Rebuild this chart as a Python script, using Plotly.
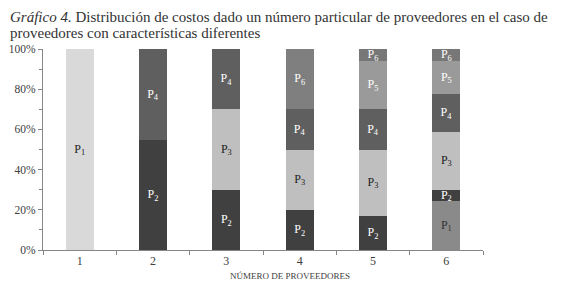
import plotly.graph_objects as go

categories = ["1", "2", "3", "4", "5", "6"]
series_names = ["P1", "P2", "P3", "P4", "P5", "P6"]
p1 = [100, None, None, None, None, 24.4]
p2 = [None, 54.7, 30, 20, 17, 5.6]
p3 = [None, None, 40, 30, 33, 28.9]
p4 = [None, 45.3, 30, 20, 20, 18.7]
p5 = [None, None, None, None, 24.2, 16.6]
p6 = [None, None, None, 30, 5.8, 5.8]
y_ticks = [0, 20, 40, 60, 80, 100]

values = [p1, p2, p3, p4, p5, p6]
colors = [
    ["#d9d9d9"] * 5 + ["#8a8a8a"],
    ["#404040"] * 6,
    ["#bfbfbf"] * 6,
    ["#5f5f5f"] * 6,
    ["#9a9a9a"] * 6,
    ["#7f7f7f"] * 4 + ["#777777"] * 2,
]
text_colors = [
    ["#222222"] * 5 + ["#333333"],
    ["#ffffff"] * 6,
    ["#222222"] * 6,
    ["#ffffff"] * 6,
    ["#ffffff"] * 6,
    ["#ffffff"] * 6,
]

FONT = "Liberation Serif"
# the page body adds an 8px offset; figure is sized to fill the rest
OFF = 8
PL, PT, PB = 43, 49, 250  # plot-area edges in page pixels
PR = 483
W, H = 572 - OFF, 283 - OFF
plot_h = PB - PT
plot_w = PR - PL

fig = go.Figure()
for i, (name, vals) in enumerate(zip(series_names, values)):
    label = f"P<sub>{i+1}</sub>"
    fig.add_trace(go.Bar(
        x=categories, y=vals, name=name,
        marker=dict(color=colors[i], line=dict(width=0)),
        text=[label if v is not None else "" for v in vals],
        textposition="inside", insidetextanchor="middle", textangle=0,
        constraintext="none",
        textfont=dict(family=FONT, size=12, color=text_colors[i]),
        width=0.38,
    ))

fig.update_layout(
    barmode="stack",
    width=W, height=H,
    margin=dict(l=PL - OFF, r=572 - PR, t=PT - OFF, b=283 - PB),
    paper_bgcolor="white", plot_bgcolor="white",
    showlegend=False,
    uniformtext=dict(minsize=11, mode="show"),
    font=dict(family=FONT, color="#404040"),
)
fig.update_yaxes(
    range=[0, 100], tickvals=y_ticks, ticktext=[f"{v}%" for v in y_ticks],
    showgrid=False, showline=True, linecolor="#868686", linewidth=1,
    ticks="outside", ticklen=4, tickcolor="#868686",
    minor=dict(dtick=10, ticks="outside", ticklen=3, tickcolor="#868686"),
    tickfont=dict(family=FONT, size=11.5, color="#404040"),
    zeroline=False, automargin=False,
)
fig.update_xaxes(
    type="category", showgrid=False, showline=True, linecolor="#868686", linewidth=1,
    ticks="outside", tickson="boundaries", ticklen=4, tickcolor="#868686",
    tickfont=dict(family=FONT, size=12, color="#404040"),
    automargin=False,
)
fig.add_annotation(
    xref="paper", yref="paper", x=(290 - PL) / plot_w, y=(PB - 283) / plot_h,
    xanchor="center", yanchor="bottom", showarrow=False,
    text="NÚMERO DE PROVEEDORES", font=dict(family=FONT, size=9, color="#404040"),
)
title_lines = [
    "<i>Gráfico 4.</i> Distribución de costos dado un número particular de proveedores en el caso de",
    "proveedores con características diferentes",
]
for k, line in enumerate(title_lines):
    fig.add_annotation(
        xref="paper", yref="paper", x=(OFF + 1 - PL) / plot_w, y=(PB - OFF - 16 * k) / plot_h,
        xanchor="left", yanchor="top", showarrow=False, align="left", borderpad=0,
        text=line, font=dict(family=FONT, size=15, color="#333333"),
    )
fig.write_html("out.html")
